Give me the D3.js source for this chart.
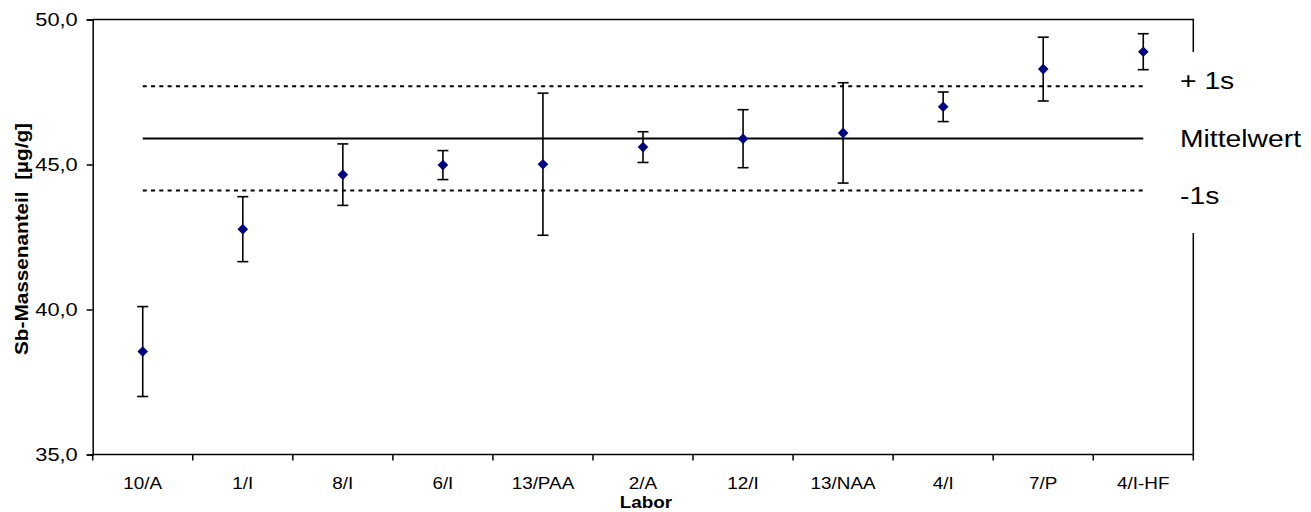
<!DOCTYPE html>
<html>
<head>
  <meta charset="utf-8" />
  <title>Sb-Massenanteil je Labor</title>
  <style type="text/css">
    body {
      margin: 0;
      background: #fff;
    }
    svg text {
      font-family: 'Liberation Sans', Arial, sans-serif;
      fill: #000;
    }
  </style>
</head>
<body>

  <div id="chart"></div>

  <script src="https://d3js.org/d3.v7.min.js"></script>
  <script>
  // lab results: mean value and uncertainty (µg/g)
  var labore = ["10/A", "1/I", "8/I", "6/I", "13/PAA", "2/A", "12/I", "13/NAA", "4/I", "7/P", "4/I-HF"];
  var werte = [38.55, 42.77, 44.65, 44.98, 45.01, 45.60, 45.89, 46.09, 46.99, 48.29, 48.89];
  var unsicherheit = [1.55, 1.12, 1.06, 0.50, 2.45, 0.53, 1.00, 1.73, 0.51, 1.10, 0.62];

  // overall mean and standard deviation
  var mittelwert = 45.9;
  var s = 1.8;
  var refLinien = [
    {label: "+ 1s", wert: mittelwert + s, dash: true},
    {label: "Mittelwert", wert: mittelwert, dash: false},
    {label: "-1s", wert: mittelwert - s, dash: true}
  ];

  var yTicks = [35, 40, 45, 50];

  var width = 1311, height = 512;
  var plot = {left: 92.7, right: 1193.3, top: 19.5, bottom: 454.5};
  var stretch = 1.18;   // horizontal text stretch

  var svg = d3.select('#chart').append('svg')
    .attr('width', width)
    .attr('height', height);

  var x = d3.scaleBand().domain(labore).range([plot.left, plot.right]).padding(0);
  var y = d3.scaleLinear().domain([35, 50]).range([plot.bottom, plot.top]);

  function widen(sel, ax) {
    sel.attr('transform', 'translate(' + ax + ',0) scale(' + stretch + ',1) translate(' + (-ax) + ',0)');
  }

  // plot area frame (top + right)
  svg.append('path')
    .attr('d', 'M' + plot.left + ',' + plot.top + 'H' + plot.right + 'V' + plot.bottom)
    .attr('fill', 'none')
    .attr('stroke', '#000')
    .attr('stroke-width', 1.5);

  // y axis
  var yAxis = svg.append('g')
    .attr('transform', 'translate(' + plot.left + ',0)')
    .call(d3.axisLeft(y).tickValues(yTicks).tickSize(6).tickPadding(9)
      .tickFormat(function (d) { return d.toFixed(1).replace('.', ','); }));
  yAxis.select('.domain').attr('stroke-width', 1.5);
  yAxis.selectAll('.tick line').attr('stroke-width', 1.5);
  yAxis.selectAll('.tick text')
    .style('font-size', '18.5px')
    .each(function () { widen(d3.select(this), -15); });

  // x axis line and boundary ticks
  svg.append('line')
    .attr('x1', plot.left).attr('x2', plot.right)
    .attr('y1', plot.bottom).attr('y2', plot.bottom)
    .attr('stroke', '#000').attr('stroke-width', 1.5);

  var grenzen = labore.map(function (d) { return x(d); }).concat([x.range()[1]]);
  svg.selectAll('.xtick')
    .data(grenzen)
    .enter()
    .append('line')
    .attr('class', 'xtick')
    .attr('x1', function (d) { return d; })
    .attr('x2', function (d) { return d; })
    .attr('y1', plot.bottom)
    .attr('y2', plot.bottom + 6)
    .attr('stroke', '#000').attr('stroke-width', 1.5);

  svg.selectAll('.xlabel')
    .data(labore)
    .enter()
    .append('text')
    .attr('class', 'xlabel')
    .attr('x', function (d) { return x(d) + x.bandwidth() / 2; })
    .attr('y', 489)
    .attr('text-anchor', 'middle')
    .style('font-size', '16px')
    .text(function (d) { return d; })
    .each(function (d) { widen(d3.select(this), x(d) + x.bandwidth() / 2); });

  // axis titles
  var lx = (plot.left + plot.right) / 2 + 3;
  svg.append('text')
    .attr('x', lx).attr('y', 508)
    .attr('text-anchor', 'middle')
    .style('font-size', '16px')
    .style('font-weight', 'bold')
    .text('Labor')
    .call(widen, lx);

  svg.append('text')
    .attr('transform', 'translate(28,239) rotate(-90)')
    .attr('text-anchor', 'middle')
    .attr('textLength', 232)
    .attr('lengthAdjust', 'spacingAndGlyphs')
    .style('font-size', '18px')
    .style('font-weight', 'bold')
    .style('white-space', 'pre')
    .text('Sb-Massenanteil  [µg/g]');

  // mean and ±1s lines, from first to last lab
  var x0 = x(labore[0]) + x.bandwidth() / 2;
  var x1 = x(labore[labore.length - 1]) + x.bandwidth() / 2;
  svg.selectAll('.ref')
    .data(refLinien)
    .enter()
    .append('line')
    .attr('class', 'ref')
    .attr('x1', x0).attr('x2', x1)
    .attr('y1', function (d) { return y(d.wert); })
    .attr('y2', function (d) { return y(d.wert); })
    .attr('stroke', '#000')
    .attr('stroke-width', 2)
    .attr('stroke-dasharray', function (d) { return d.dash ? '4,4.3' : null; });

  // label box on the right hides part of the frame
  svg.append('rect')
    .attr('x', 1170).attr('y', 52)
    .attr('width', 141).attr('height', 181)
    .attr('fill', '#fff');

  // labels sit evenly spaced in the box, centred on the mean line
  var yMitte = y(mittelwert) + 8.4;
  svg.selectAll('.reflabel')
    .data(refLinien)
    .enter()
    .append('text')
    .attr('class', 'reflabel')
    .attr('x', 1180)
    .attr('y', function (d, i) { return yMitte + (i - 1) * 57.4; })
    .style('font-size', '24px')
    .text(function (d) { return d.label; })
    .each(function () { widen(d3.select(this), 1180); });

  // error bars
  var punkte = labore.map(function (d, i) {
    return {lab: d, wert: werte[i], u: unsicherheit[i]};
  });
  var cx = function (d) { return x(d.lab) + x.bandwidth() / 2; };

  var bars = svg.selectAll('.err')
    .data(punkte)
    .enter()
    .append('g')
    .attr('class', 'err')
    .attr('stroke', '#000')
    .attr('stroke-width', 1.6);

  bars.append('line')
    .attr('x1', cx).attr('x2', cx)
    .attr('y1', function (d) { return y(d.wert + d.u); })
    .attr('y2', function (d) { return y(d.wert - d.u); });
  bars.append('line')
    .attr('x1', function (d) { return cx(d) - 5.5; })
    .attr('x2', function (d) { return cx(d) + 5.5; })
    .attr('y1', function (d) { return y(d.wert + d.u); })
    .attr('y2', function (d) { return y(d.wert + d.u); });
  bars.append('line')
    .attr('x1', function (d) { return cx(d) - 5.5; })
    .attr('x2', function (d) { return cx(d) + 5.5; })
    .attr('y1', function (d) { return y(d.wert - d.u); })
    .attr('y2', function (d) { return y(d.wert - d.u); });

  // diamond markers
  svg.selectAll('.pt')
    .data(punkte)
    .enter()
    .append('path')
    .attr('class', 'pt')
    .attr('d', 'M0,-5.3L5.3,0L0,5.3L-5.3,0Z')
    .attr('transform', function (d) { return 'translate(' + cx(d) + ',' + y(d.wert) + ')'; })
    .attr('fill', '#000080');
  </script>
</body>
</html>
